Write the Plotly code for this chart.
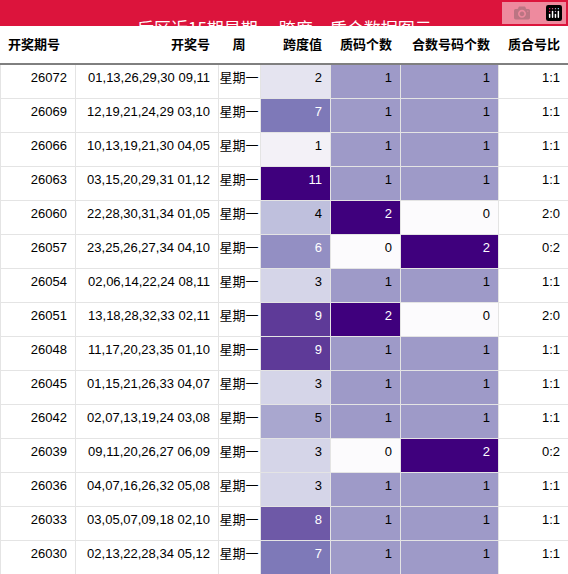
import plotly.graph_objects as go
from plotly.colors import sample_colorscale

periods = ["26072", "26069", "26066", "26063", "26060", "26057", "26054", "26051",
           "26048", "26045", "26042", "26039", "26036", "26033", "26030"]
numbers = ["01,13,26,29,30 09,11", "12,19,21,24,29 03,10", "10,13,19,21,30 04,05",
           "03,15,20,29,31 01,12", "22,28,30,31,34 01,05", "23,25,26,27,34 04,10",
           "02,06,14,22,24 08,11", "13,18,28,32,33 02,11", "11,17,20,23,35 01,10",
           "01,15,21,26,33 04,07", "02,07,13,19,24 03,08", "09,11,20,26,27 06,09",
           "04,07,16,26,32 05,08", "03,05,07,09,18 02,10", "02,13,22,28,34 05,12"]
weekday = ["星期一"] * 15
span = [2, 7, 1, 11, 4, 6, 3, 9, 9, 3, 5, 3, 3, 8, 7]
prime_cnt = [1, 1, 1, 1, 2, 0, 1, 2, 1, 1, 1, 0, 1, 1, 1]
comp_cnt = [1, 1, 1, 1, 0, 2, 1, 0, 1, 1, 1, 2, 1, 1, 1]
ratio = [f"{p}:{c}" for p, c in zip(prime_cnt, comp_cnt)]

headers = ["开奖期号", "开奖号", "周", "跨度值", "质码个数", "合数号码个数", "质合号比"]


def shade(vals, vmax):
    fr = [v / vmax for v in vals]
    fills = sample_colorscale("Purples", fr)
    fonts = ["white" if f > 0.5 else "black" for f in fr]
    return fills, fonts


span_fill, span_font = shade(span, 11)
p_fill, p_font = shade(prime_cnt, 2)
c_fill, c_font = shade(comp_cnt, 2)
white = ["white"] * 15
black = ["black"] * 15

top = 545 / 574

fig = go.Figure(go.Table(
    domain=dict(x=[0, 1], y=[0, top]),
    columnwidth=[75, 143, 42, 70, 70, 98, 70],
    header=dict(
        values=[f"<b>{h}</b>" for h in headers],
        align=["left", "right", "center", "right", "right", "right", "right"],
        fill_color="white",
        line=dict(color="white", width=1),
        font=dict(size=13, color="black", family="Liberation Sans, Noto Sans CJK SC"),
        height=35,
    ),
    cells=dict(
        values=[periods, numbers, weekday, span, prime_cnt, comp_cnt, ratio],
        align=["right", "right", "center", "right", "right", "right", "right"],
        fill_color=[white, white, white, span_fill, p_fill, c_fill, white],
        font=dict(size=13, family="Liberation Sans, Noto Sans CJK SC",
                  color=[black, black, black, span_font, p_font, c_font, black]),
        line=dict(color="#e4e4e4", width=1),
        height=34,
    ),
))

fig.add_shape(type="rect", xref="paper", yref="paper", x0=0, x1=1, y0=548 / 574, y1=1,
              fillcolor="#dc143c", line=dict(width=0))
fig.add_shape(type="line", xref="paper", yref="paper", x0=0, x1=1,
              y0=(545 - 35) / 574, y1=(545 - 35) / 574,
              line=dict(color="black", width=1))
fig.add_annotation(text="后区近15期星期一 跨度，质合数据图示", xref="paper", yref="paper",
                   x=0.5, y=1 - 13 / 574, showarrow=False,
                   font=dict(size=17, color="white", family="Noto Sans CJK SC"))

fig.update_layout(width=568, height=574, margin=dict(l=0, r=0, t=0, b=0),
                  paper_bgcolor="white")

fig.write_html("out.html", post_script="document.body.style.margin='0';")
